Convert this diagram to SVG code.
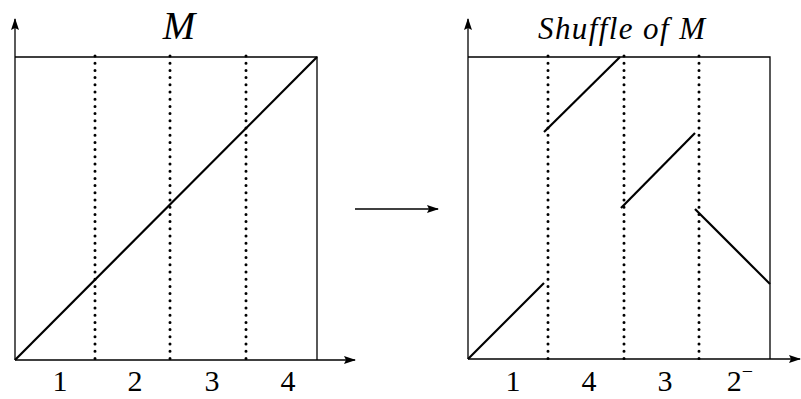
<svg xmlns="http://www.w3.org/2000/svg" width="801" height="399" viewBox="0 0 801 399">
<style>
.ax{stroke:#000;stroke-width:1.3;fill:none}
.bx{stroke:#000;stroke-width:1.3;fill:none}
.dot{stroke:#000;stroke-width:3;stroke-linecap:round;stroke-dasharray:0 7.2;fill:none}
.seg{stroke:#000;stroke-width:2.2;fill:none}
.t{font-family:"Liberation Serif",serif;fill:#000}
.lab{font-size:30px;text-anchor:middle}
</style>
<defs>
<marker id="ah" markerWidth="12" markerHeight="8" refX="11" refY="4" orient="auto" markerUnits="userSpaceOnUse">
<path d="M0,0 L12,4 L0,8 L2,4 Z" fill="#000"/>
</marker>
</defs>
<g id="left-plot">
<line class="ax" x1="15" y1="360" x2="15" y2="19" marker-end="url(#ah)"/>
<line class="ax" x1="15" y1="360" x2="355" y2="360" marker-end="url(#ah)"/>
<polyline class="bx" points="15,57 317,57 317,360"/>
<line class="dot" x1="95" y1="56" x2="95" y2="360"/>
<line class="dot" x1="170" y1="56" x2="170" y2="360"/>
<line class="dot" x1="246" y1="56" x2="246" y2="360"/>
<line class="seg" x1="15" y1="360" x2="317" y2="57"/>
<text class="t" x="179" y="39" font-size="39" font-style="italic" text-anchor="middle">M</text>
<text class="t lab" x="60" y="391">1</text>
<text class="t lab" x="135" y="391">2</text>
<text class="t lab" x="212" y="391">3</text>
<text class="t lab" x="288" y="391">4</text>
</g>
<g id="right-plot">
<line class="ax" x1="468" y1="359" x2="468" y2="19" marker-end="url(#ah)"/>
<line class="ax" x1="468" y1="359" x2="800" y2="359" marker-end="url(#ah)"/>
<polyline class="bx" points="468,57 770,57 770,359"/>
<line class="dot" x1="548" y1="56" x2="548" y2="359"/>
<line class="dot" x1="624" y1="56" x2="624" y2="359"/>
<line class="dot" x1="699" y1="56" x2="699" y2="359"/>
<line class="seg" x1="468" y1="359" x2="544" y2="283"/>
<line class="seg" x1="544" y1="132" x2="620" y2="57"/>
<line class="seg" x1="621" y1="208" x2="695" y2="133"/>
<line class="seg" x1="695" y1="209" x2="770" y2="284"/>
<text class="t" x="538" y="39" font-size="31" font-style="italic" textLength="167" lengthAdjust="spacing">Shuffle of M</text>
<text class="t lab" x="513" y="391">1</text>
<text class="t lab" x="589" y="391">4</text>
<text class="t lab" x="665" y="391">3</text>
<text class="t lab" x="740" y="391">2<tspan font-size="20" dy="-13">−</tspan></text>
</g>
<g id="connectors">
<line class="ax" x1="355" y1="209" x2="438" y2="209" marker-end="url(#ah)"/>
</g>
</svg>
